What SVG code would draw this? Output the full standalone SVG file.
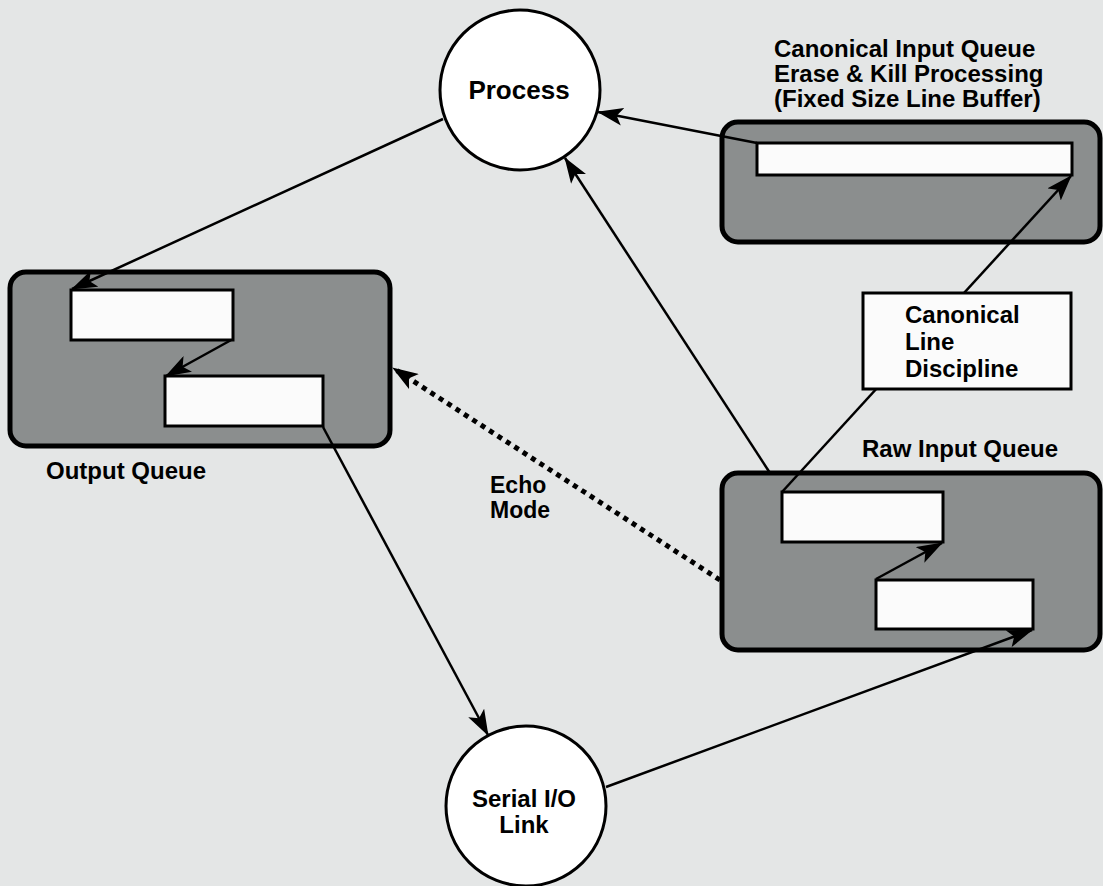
<svg xmlns="http://www.w3.org/2000/svg" width="1103" height="886" viewBox="0 0 1103 886">
<style>
.bg{fill:#e4e6e6}
.queue{fill:#8b8e8e;stroke:#000;stroke-width:5}
.buf{fill:#fbfbfb;stroke:#000;stroke-width:3}
.circ{fill:#fff;stroke:#000;stroke-width:3}
.lbl{font-family:"Liberation Sans",Arial,Helvetica,sans-serif;font-weight:bold;font-size:24px;fill:#000}
.conn{stroke:#000;stroke-width:2.5;fill:none;marker-end:url(#arr)}
.dot{stroke:#000;stroke-width:5;stroke-dasharray:5 5;fill:none;marker-end:url(#arr)}
</style>
<defs>
<marker id="arr" markerUnits="userSpaceOnUse" viewBox="0 0 26 18" markerWidth="26" markerHeight="18" refX="25" refY="9" orient="auto">
<path d="M0,0 L26,9 L0,18 L6,9 Z" fill="#000"/>
</marker>
</defs>
<rect class="bg" x="0" y="0" width="1103" height="886"/>

<g id="canonical-input-queue">
<rect class="queue" x="722" y="122" width="378" height="120" rx="16"/>
<text class="lbl" x="774" y="57">Canonical Input Queue</text>
<text class="lbl" x="774" y="82">Erase &amp; Kill Processing</text>
<text class="lbl" x="774" y="107">(Fixed Size Line Buffer)</text>
</g>
<g id="output-queue">
<rect class="queue" x="10" y="272" width="380" height="174" rx="16"/>
<text class="lbl" x="46" y="479">Output Queue</text>
</g>
<g id="raw-input-queue">
<rect class="queue" x="722" y="473" width="378" height="177" rx="16"/>
<text class="lbl" x="862" y="457">Raw Input Queue</text>
</g>

<g id="connectors">
<line class="conn" x1="443" y1="119" x2="72" y2="289"/>
<line class="conn" x1="233" y1="339" x2="166" y2="376"/>
<line class="conn" x1="323" y1="427" x2="488" y2="735"/>
<line class="conn" x1="606" y1="787" x2="1032" y2="630"/>
<line class="conn" x1="876" y1="579" x2="942" y2="543"/>
<line class="conn" x1="782" y1="492" x2="1071" y2="176"/>
<line class="conn" x1="770" y1="473" x2="565" y2="158"/>
<line class="conn" x1="757" y1="143" x2="598" y2="112"/>
<line class="dot" x1="720" y1="580" x2="393" y2="368"/>
<text class="lbl" x="490" y="493" style="font-size:23px">Echo</text>
<text class="lbl" x="490" y="518" style="font-size:23px">Mode</text>
</g>

<g id="canonical-buffer">
<rect class="buf" x="757" y="143" width="315" height="32"/>
</g>
<g id="output-buffer-1">
<rect class="buf" x="71" y="290" width="162" height="50"/>
</g>
<g id="output-buffer-2">
<rect class="buf" x="165" y="376" width="158" height="50"/>
</g>
<g id="raw-buffer-1">
<rect class="buf" x="782" y="492" width="161" height="50"/>
</g>
<g id="raw-buffer-2">
<rect class="buf" x="876" y="580" width="157" height="49"/>
</g>
<g id="canonical-line-discipline">
<rect class="buf" x="863" y="293" width="208" height="96"/>
<text class="lbl" x="905" y="323">Canonical</text>
<text class="lbl" x="905" y="350">Line</text>
<text class="lbl" x="905" y="377">Discipline</text>
</g>
<g id="process">
<circle class="circ" cx="520" cy="90" r="80"/>
<text class="lbl" x="519" y="99" text-anchor="middle" style="font-size:26px">Process</text>
</g>
<g id="serial-io-link">
<circle class="circ" cx="526" cy="806" r="80"/>
<text class="lbl" x="524" y="807" text-anchor="middle">Serial I/O</text>
<text class="lbl" x="524" y="833" text-anchor="middle">Link</text>
</g>
</svg>
